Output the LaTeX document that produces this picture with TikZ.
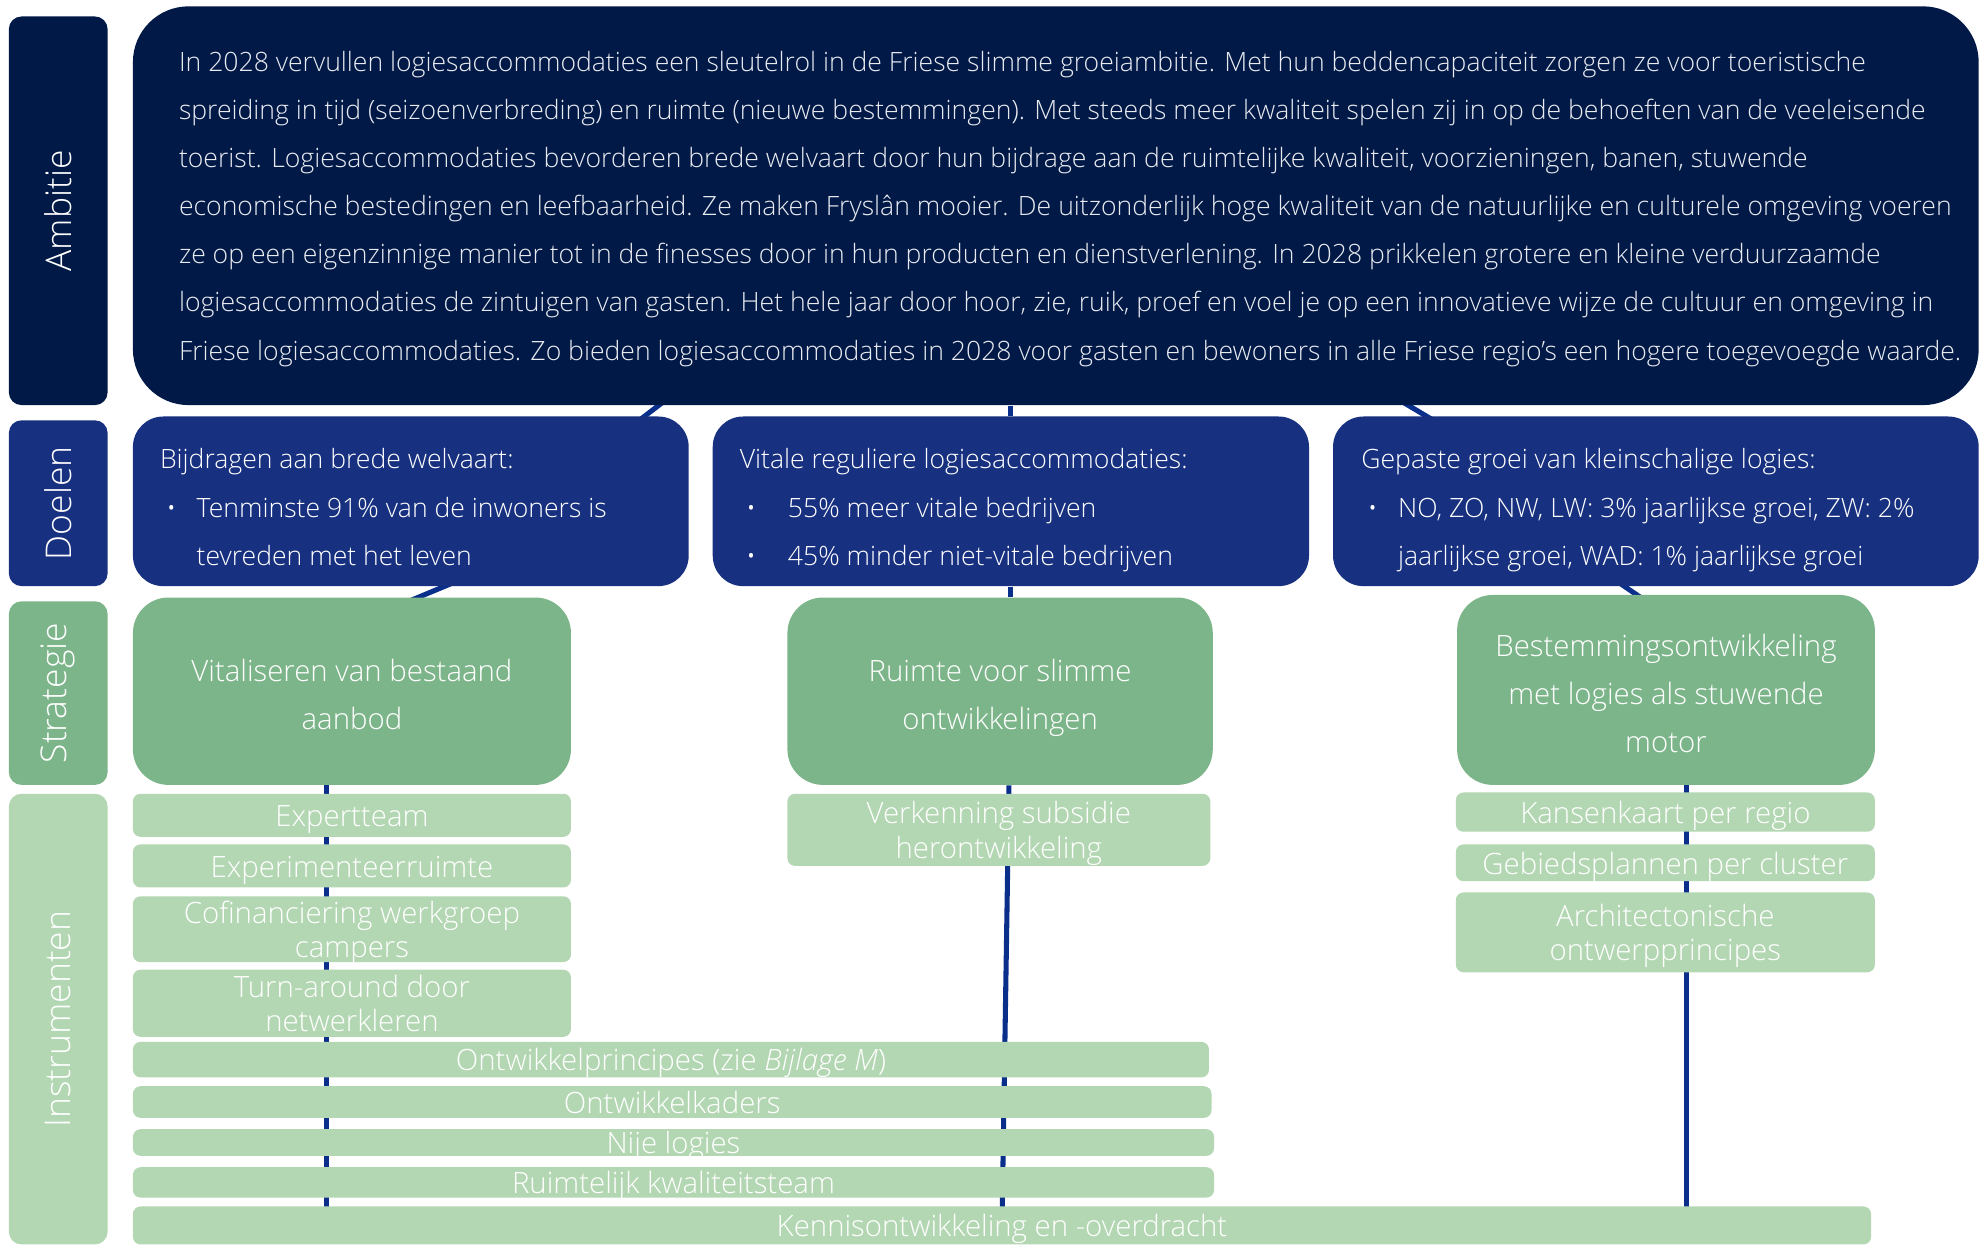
\documentclass[tikz,border=0pt]{standalone}
\usepackage{fontspec}
\IfFontExistsTF{Open Sans Light}{%
  \IfFontExistsTF{Open Sans Light Italic}%
    {\setmainfont{Open Sans Light}[ItalicFont={Open Sans Light Italic}]}%
    {\setmainfont{Open Sans Light}}}%
  {\setmainfont{Open Sans}}
\definecolor{ambcol}{HTML}{011946}
\definecolor{goalcol}{HTML}{17307F}
\definecolor{stratcol}{HTML}{7DB58A}
\definecolor{instcol}{HTML}{B3D7B2}
\definecolor{linecol}{HTML}{0A2F8A}
\definecolor{ambtxt}{HTML}{E8EAF0}
\pgfdeclarelayer{bg}
\pgfsetlayers{bg,main}
\newcommand\fst{\rule{0pt}{13.3pt}}
% empty box: name, x1, y1, x2, y2, style
\newcommand\bx[6]{%
  \pgfmathsetmacro\bxw{(#4-#2)*0.5}%
  \pgfmathsetmacro\bxh{(#5-#3)*0.5}%
  \node[#6,minimum width=\bxw pt,minimum height=\bxh pt] (#1) at ({(#2+#4)/2},{(#3+#5)/2}) {};}
% box with centred text: name, x1, y1, x2, y2, box style, text style, text
\newcommand\bxt[8]{%
  \bx{#1}{#2}{#3}{#4}{#5}{#6}%
  \node[#7] (#1t) at (#1.center) {\strut#8\strut};}
\newcommand\lbx[7]{%
  \pgfmathsetmacro\bxw{(#4-#2)*0.5}%
  \pgfmathsetmacro\bxh{(#5-#3)*0.5}%
  \node[lab,fill=#6,rotate=90,minimum width=\bxh pt,minimum height=\bxw pt] (#1) at ({(#2+#4)/2},{(#3+#5)/2}) {#7};}
\begin{document}
\begin{tikzpicture}[x=0.5pt,y=-0.5pt,
  lab/.style={rounded corners=5pt,text=white,inner sep=0pt,font=\fontsize{14}{16}\selectfont},
  ambbox/.style={fill=ambcol,rounded corners=22pt,inner sep=0pt},
  goal/.style={fill=goalcol,rounded corners=12pt,inner sep=0pt},
  strat/.style={fill=stratcol,rounded corners=14pt,inner sep=0pt},
  strattext/.style={text=white,align=center,inner sep=0pt,yshift=-2pt,font=\fontsize{11.6}{19}\selectfont},
  inst/.style={fill=instcol,rounded corners=3pt,inner sep=0pt},
  insttext/.style={text=white,align=center,inner sep=0pt,yshift=-1.75pt,font=\fontsize{11.6}{13.6}\selectfont},
  ptext/.style={text=ambtxt,align=left,inner sep=0pt,font=\fontsize{10.5}{19}\selectfont},
  gtext/.style={text=white,align=left,inner sep=0pt,font=\fontsize{10.5}{19}\selectfont},
  conn/.style={draw=linecol,line width=2pt},
  colline/.style={draw=linecol,line width=2pt}]
\useasboundingbox (0,0) rectangle (1568,984);
% left labels
\lbx{lamb}{7}{13}{85}{320}{ambcol}{Ambitie}
\lbx{ldoel}{7}{332}{85}{463}{goalcol}{Doelen}
\lbx{lstrat}{7}{475}{85}{620}{stratcol}{Strategie}
\lbx{linst}{7}{627}{85}{983}{instcol}{Instrumenten}
% ambition
\bx{amb}{105}{5}{1563}{320}{ambbox}
\node[ptext,anchor=north west] (ambtext) at (141,29.4) {\fst In 2028 vervullen logiesaccommodaties een sleutelrol in de Friese slimme groeiambitie. Met hun beddencapaciteit zorgen ze voor toeristische\\
spreiding in tijd (seizoenverbreding) en ruimte (nieuwe bestemmingen). Met steeds meer kwaliteit spelen zij in op de behoeften van de veeleisende\\
toerist. Logiesaccommodaties bevorderen brede welvaart door hun bijdrage aan de ruimtelijke kwaliteit, voorzieningen, banen, stuwende\\
economische bestedingen en leefbaarheid. Ze maken Fryslân mooier. De uitzonderlijk hoge kwaliteit van de natuurlijke en culturele omgeving voeren\\
ze op een eigenzinnige manier tot in de finesses door in hun producten en dienstverlening. In 2028 prikkelen grotere en kleine verduurzaamde\\
logiesaccommodaties de zintuigen van gasten. Het hele jaar door hoor, zie, ruik, proef en voel je op een innovatieve wijze de cultuur en omgeving in\\
Friese logiesaccommodaties. Zo bieden logiesaccommodaties in 2028 voor gasten en bewoners in alle Friese regio’s een hogere toegevoegde waarde.};
% goals
\bx{g1}{105}{329}{544}{463}{goal}
\bx{g2}{563}{329}{1034}{463}{goal}
\bx{g3}{1053}{329}{1563}{463}{goal}
\node[gtext,anchor=north west] (g1text) at (126,343.4) {\fst Bijdragen aan brede welvaart:\\
\makebox[14.5pt][l]{\hspace{2.5pt}•}Tenminste 91\% van de inwoners is\\
\hspace*{14.5pt}tevreden met het leven};
\node[gtext,anchor=north west] (g2text) at (584,343.4) {\fst Vitale reguliere logiesaccommodaties:\\
\makebox[19pt][l]{\hspace{2.5pt}•}55\% meer vitale bedrijven\\
\makebox[19pt][l]{\hspace{2.5pt}•}45\% minder niet-vitale bedrijven};
\node[gtext,anchor=north west] (g3text) at (1075,343.4) {\fst Gepaste groei van kleinschalige logies:\\
\makebox[14.5pt][l]{\hspace{2.5pt}•}NO, ZO, NW, LW: 3\% jaarlijkse groei, ZW: 2\%\\
\hspace*{14.5pt}jaarlijkse groei, WAD: 1\% jaarlijkse groei};
% strategies
\bxt{s1}{105}{472}{451}{620}{strat}{strattext}{Vitaliseren van bestaand\\aanbod}
\bxt{s2}{622}{472}{958}{620}{strat}{strattext}{Ruimte voor slimme\\ontwikkelingen}
\bxt{s3}{1151}{470}{1481}{620}{strat}{strattext}{Bestemmingsontwikkeling\\met logies als stuwende\\motor}
% instruments
\bxt{i1}{105}{627}{451}{661}{inst}{insttext}{Expertteam}
\bxt{i2}{105}{667}{451}{701}{inst}{insttext}{Experimenteerruimte}
\bxt{i3}{105}{708}{451}{760}{inst}{insttext}{Cofinanciering werkgroep\\campers}
\bxt{i4}{105}{766}{451}{819}{inst}{insttext}{Turn-around door\\netwerkleren}
\bxt{i5}{622}{627}{956}{684}{inst}{insttext}{Verkenning subsidie\\herontwikkeling}
\bxt{i6}{1150}{626}{1481}{657}{inst}{insttext}{Kansenkaart per regio}
\bxt{i7}{1150}{667}{1481}{696}{inst}{insttext}{Gebiedsplannen per cluster}
\bxt{i8}{1150}{705}{1481}{768}{inst}{insttext}{Architectonische\\ontwerpprincipes}
\bxt{i9}{105}{823}{955}{851}{inst}{insttext}{Ontwikkelprincipes (zie \emph{Bijlage M})}
\bxt{i10}{105}{858}{957}{883}{inst}{insttext}{Ontwikkelkaders}
\bxt{i11}{105}{892}{959}{913}{inst}{insttext}{Nije logies}
\bxt{i12}{105}{922}{959}{946}{inst}{insttext}{Ruimtelijk kwaliteitsteam}
\bxt{kennis}{105}{953}{1478}{983}{inst}{insttext}{Kennisontwikkeling en -overdracht}
% connectors
\begin{pgfonlayer}{bg}
\draw[conn] ([xshift=211pt,yshift=2.5pt]amb.south west) -- ([xshift=198.5pt,yshift=-3pt]g1.north west);
\draw[conn] (amb.south -| g2.north) -- (g2.north);
\draw[conn] ([xshift=-229.5pt,yshift=2.5pt]amb.south east) -- ([xshift=42pt,yshift=-3pt]g3.north west);
\draw[conn] ([xshift=129pt,yshift=2.5pt]g1.south west) -- ([xshift=106pt,yshift=-3pt]s1.north west);
\draw[conn] (g2.south) -- (g2.south |- s2.north);
\draw[conn] ([xshift=111.8pt,yshift=2.5pt]g3.south west) -- ([xshift=76.8pt,yshift=-4pt]s3.north west);
\draw[colline] ([xshift=-10pt]s1.south) -- ([xshift=-10pt]s1.south |- kennis.center);
\draw[colline] ([xshift=3.5pt]s2.south) -- (kennis.center);
\draw[colline] ([xshift=8pt]s3.south) -- ([xshift=8pt]s3.south |- kennis.center);
\end{pgfonlayer}
\end{tikzpicture}
\end{document}
